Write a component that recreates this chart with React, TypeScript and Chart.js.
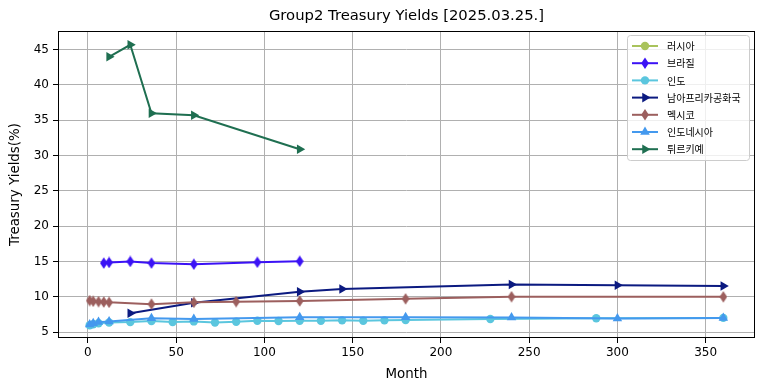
import React, { useEffect, useRef } from 'react';
import { Chart, registerables } from 'chart.js';

Chart.register(...registerables);

const chartTitle = 'Group2 Treasury Yields [2025.03.25.]';
const xAxisTitle = 'Month';
const yAxisTitle = 'Treasury Yields(%)';

const seriesNames = ['러시아', '브라질', '인도', '남아프리카공화국', '멕시코', '인도네시아', '튀르키예'];
const seriesColors = ['#a9c35c', '#3b12f5', '#5bc6de', '#0b1a80', '#9c5f5e', '#4499ee', '#1f6f51'];
const seriesMarkers = ['circle', 'thinDiamond', 'circle', 'triRight', 'thinDiamond', 'triUp', 'triRight'];

const russiaMonths: number[] = [];
const russiaYields: number[] = [];
const brazilMonths = [9, 12, 24, 36, 60, 96, 120];
const brazilYields = [14.76, 14.85, 14.99, 14.76, 14.6, 14.88, 15.02];
const indiaMonths = [1, 3, 6, 12, 24, 36, 48, 60, 72, 84, 96, 108, 120, 132, 144, 156, 168, 180, 228, 288, 360];
const indiaYields = [5.95, 6.1, 6.25, 6.35, 6.4, 6.55, 6.4, 6.5, 6.35, 6.45, 6.6, 6.55, 6.6, 6.6, 6.65, 6.6, 6.65, 6.7, 6.85, 6.95, 7.0];
const southAfricaMonths = [24, 60, 120, 144, 240, 300, 360];
const southAfricaYields = [7.65, 9.15, 10.7, 11.1, 11.72, 11.62, 11.52];
const mexicoMonths = [1, 3, 6, 9, 12, 36, 60, 84, 120, 180, 240, 360];
const mexicoYields = [9.45, 9.35, 9.3, 9.25, 9.2, 8.95, 9.2, 9.3, 9.4, 9.7, 10.0, 9.98];
const indonesiaMonths = [1, 3, 6, 12, 36, 60, 120, 180, 240, 300, 360];
const indonesiaYields = [6.05, 6.25, 6.4, 6.5, 6.95, 6.85, 7.1, 7.1, 7.05, 6.9, 7.0];
const turkeyMonths = [12, 24, 36, 60, 120];
const turkeyYields = [44.0, 45.7, 36.0, 35.7, 30.9];

const seriesMonths = [russiaMonths, brazilMonths, indiaMonths, southAfricaMonths, mexicoMonths, indonesiaMonths, turkeyMonths];
const seriesYields = [russiaYields, brazilYields, indiaYields, southAfricaYields, mexicoYields, indonesiaYields, turkeyYields];

const xTickValues = [0, 50, 100, 150, 200, 250, 300, 350];
const yTickValues = [5, 10, 15, 20, 25, 30, 35, 40, 45];

const FONT = '"DejaVu Sans", sans-serif';

function makeDiamond(color: string): HTMLCanvasElement {
  const c = document.createElement('canvas');
  const w = 8, h = 12;
  c.width = w; c.height = h;
  const g = c.getContext('2d')!;
  g.fillStyle = color;
  g.beginPath();
  g.moveTo(w / 2, 0.2);
  g.lineTo(w - 0.2, h / 2);
  g.lineTo(w / 2, h - 0.2);
  g.lineTo(0.2, h / 2);
  g.closePath();
  g.fill();
  return c;
}

function drawMarker(ctx: CanvasRenderingContext2D, kind: string, color: string, x: number, y: number) {
  ctx.fillStyle = color;
  ctx.beginPath();
  if (kind === 'circle') {
    ctx.arc(x, y, 4.2, 0, Math.PI * 2);
  } else if (kind === 'thinDiamond') {
    ctx.moveTo(x, y - 5.8); ctx.lineTo(x + 3.8, y); ctx.lineTo(x, y + 5.8); ctx.lineTo(x - 3.8, y);
  } else if (kind === 'triUp') {
    ctx.moveTo(x, y - 5.5); ctx.lineTo(x + 4.8, y + 2.75); ctx.lineTo(x - 4.8, y + 2.75);
  } else {
    ctx.moveTo(x + 5.5, y); ctx.lineTo(x - 2.75, y + 4.8); ctx.lineTo(x - 2.75, y - 4.8);
  }
  ctx.closePath();
  ctx.fill();
}

const decorPlugin = {
  id: 'decor',
  afterDraw(chart: any) {
    const ctx: CanvasRenderingContext2D = chart.ctx;
    const a = chart.chartArea;
    ctx.save();
    ctx.strokeStyle = '#000';
    ctx.lineWidth = 1;
    ctx.strokeRect(Math.round(a.left) + 0.5, Math.round(a.top) + 0.5, Math.round(a.right - a.left) - 1, Math.round(a.bottom - a.top) - 1);
    ctx.fillStyle = '#000';
    ctx.textAlign = 'center';
    ctx.textBaseline = 'middle';
    const cx = (a.left + a.right) / 2;
    ctx.font = `14.8px ${FONT}`;
    ctx.fillText(chartTitle, cx, 16);
    ctx.font = `13.4px ${FONT}`;
    ctx.fillText(xAxisTitle, cx, 374.5);
    ctx.save();
    ctx.translate(16, (a.top + a.bottom) / 2);
    ctx.rotate(-Math.PI / 2);
    ctx.fillText(yAxisTitle, 0, 0);
    ctx.restore();
    const x0 = 627.5, y0 = 35.5, w = 122, h = 125;
    const r = 3;
    ctx.beginPath();
    ctx.moveTo(x0 + r, y0);
    ctx.lineTo(x0 + w - r, y0);
    ctx.arcTo(x0 + w, y0, x0 + w, y0 + r, r);
    ctx.lineTo(x0 + w, y0 + h - r);
    ctx.arcTo(x0 + w, y0 + h, x0 + w - r, y0 + h, r);
    ctx.lineTo(x0 + r, y0 + h);
    ctx.arcTo(x0, y0 + h, x0, y0 + h - r, r);
    ctx.lineTo(x0, y0 + r);
    ctx.arcTo(x0, y0, x0 + r, y0, r);
    ctx.closePath();
    ctx.fillStyle = 'rgba(255,255,255,0.8)';
    ctx.fill();
    ctx.strokeStyle = '#cccccc';
    ctx.lineWidth = 1;
    ctx.stroke();
    ctx.textAlign = 'left';
    ctx.font = '10px "Noto Sans CJK KR", sans-serif';
    seriesNames.forEach((name, i) => {
      const yy = 46 + i * 17.2;
      ctx.strokeStyle = seriesColors[i];
      ctx.lineWidth = 2;
      ctx.beginPath();
      ctx.moveTo(632, yy);
      ctx.lineTo(658, yy);
      ctx.stroke();
      drawMarker(ctx, seriesMarkers[i], seriesColors[i], 645, yy);
      ctx.fillStyle = '#000';
      ctx.fillText(name, 667, yy + 0.5);
    });
    ctx.restore();
  },
};

export default function App() {
  const ref = useRef<HTMLCanvasElement | null>(null);
  useEffect(() => {
    if (!ref.current) return;
    const datasets = seriesNames.map((name, i) => {
      const kind = seriesMarkers[i];
      let pointStyle: any = 'circle';
      let pointRadius = 4.2;
      let rotation = 0;
      if (kind === 'thinDiamond') { pointStyle = makeDiamond(seriesColors[i]); pointRadius = 4; }
      else if (kind === 'triUp') { pointStyle = 'triangle'; pointRadius = 5.5; }
      else if (kind === 'triRight') { pointStyle = 'triangle'; pointRadius = 5.5; rotation = 90; }
      return {
        label: name,
        data: seriesMonths[i].map((m, j) => ({ x: m, y: seriesYields[i][j] })),
        borderColor: seriesColors[i],
        backgroundColor: seriesColors[i],
        pointBackgroundColor: seriesColors[i],
        pointBorderColor: seriesColors[i],
        pointBorderWidth: 0,
        borderWidth: 2,
        pointStyle,
        pointRadius,
        pointRotation: rotation,
        tension: 0,
        fill: false,
        order: seriesNames.length - i,
      };
    });
    const chart = new Chart(ref.current, {
      type: 'line',
      data: { datasets },
      plugins: [decorPlugin],
      options: {
        animation: false,
        responsive: false,
        devicePixelRatio: 1,
        layout: { padding: { top: 31, right: 9, left: 0, bottom: 0 } },
        plugins: { legend: { display: false }, title: { display: false }, tooltip: { enabled: false } },
        scales: {
          x: {
            type: 'linear',
            min: -16.95,
            max: 377.95,
            afterBuildTicks: (s: any) => { s.ticks = xTickValues.map((v) => ({ value: v })); },
            afterFit: (s: any) => { s.height = 53; },
            border: { display: false },
            grid: { color: '#b0b0b0', lineWidth: 1, tickColor: '#000', tickLength: 5, drawTicks: true },
            ticks: { font: { family: FONT, size: 12 }, color: '#000', padding: 3, maxRotation: 0, autoSkip: false },
          },
          y: {
            type: 'linear',
            min: 4.15,
            max: 47.65,
            afterBuildTicks: (s: any) => { s.ticks = yTickValues.map((v) => ({ value: v })); },
            afterFit: (s: any) => { s.width = 58; },
            border: { display: false },
            grid: { color: '#b0b0b0', lineWidth: 1, tickColor: '#000', tickLength: 5, drawTicks: true },
            ticks: { font: { family: FONT, size: 12 }, color: '#000', padding: 4, autoSkip: false },
          },
        },
      } as any,
    });
    return () => chart.destroy();
  }, []);
  return (
    <div style={{ position: 'absolute', left: 0, top: 0, width: 764, height: 391 }}>
      <canvas ref={ref} width={764} height={391} style={{ width: 764, height: 391 }} />
    </div>
  );
}
